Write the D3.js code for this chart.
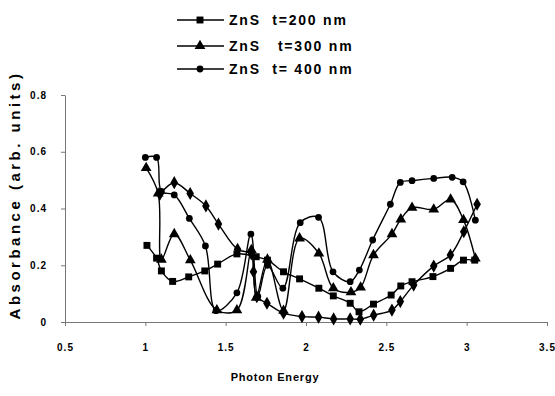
<!DOCTYPE html>
<html>
  <head>
    <meta charset="utf-8">
    <script src="https://d3js.org/d3.v7.min.js"></script>
    <style>
      body { margin: 0; background: #fff; }
      .tick text { font-family: Arial, "Liberation Sans", sans-serif; font-weight: bold; font-size: 10px; letter-spacing: 1px; fill: #000; }
      .domain, .tick line { stroke: #777; }
      .legend text { font-family: Arial, "Liberation Sans", sans-serif; font-weight: bold; font-size: 14px; letter-spacing: 1.8px; }
    </style>
  </head>
  <body>
    <svg width="555" height="396"></svg>
    <script>
      // data
      const xTicks = [0.5, 1, 1.5, 2, 2.5, 3, 3.5];
      const yTicks = [0, 0.2, 0.4, 0.6, 0.8];

      const sqX = [1.01, 1.07, 1.10, 1.17, 1.27, 1.37, 1.45, 1.57, 1.69, 1.76, 1.86, 1.96, 2.08, 2.17, 2.275, 2.33, 2.42, 2.53, 2.59, 2.66, 2.79, 2.90, 2.98, 3.05];
      const sqY = [0.27, 0.225, 0.18, 0.143, 0.159, 0.18, 0.204, 0.24, 0.23, 0.218, 0.177, 0.152, 0.119, 0.092, 0.066, 0.036, 0.063, 0.095, 0.127, 0.142, 0.16, 0.189, 0.218, 0.218];

      const triX = [1.005, 1.08, 1.10, 1.18, 1.28, 1.445, 1.57, 1.66, 1.69, 1.76, 1.86, 1.96, 2.08, 2.17, 2.28, 2.34, 2.42, 2.535, 2.59, 2.66, 2.795, 2.90, 2.98, 3.054];
      const triY = [0.543, 0.453, 0.22, 0.31, 0.218, 0.042, 0.042, 0.254, 0.086, 0.22, 0.04, 0.295, 0.242, 0.119, 0.105, 0.122, 0.236, 0.31, 0.362, 0.403, 0.397, 0.432, 0.36, 0.224];

      const cirX = [1.0, 1.07, 1.10, 1.18, 1.274, 1.374, 1.44, 1.57, 1.657, 1.70, 1.76, 1.856, 1.964, 2.078, 2.168, 2.275, 2.332, 2.415, 2.525, 2.587, 2.66, 2.795, 2.91, 2.978, 3.054];
      const cirY = [0.58, 0.58, 0.46, 0.448, 0.365, 0.268, 0.04, 0.103, 0.31, 0.09, 0.2, 0.119, 0.35, 0.369, 0.177, 0.142, 0.183, 0.289, 0.415, 0.492, 0.498, 0.506, 0.51, 0.494, 0.359];

      const diaX = [1.09, 1.18, 1.279, 1.377, 1.455, 1.574, 1.66, 1.673, 1.694, 1.757, 1.86, 1.975, 2.078, 2.172, 2.275, 2.338, 2.421, 2.535, 2.587, 2.67, 2.795, 2.899, 2.982, 3.065];
      const diaY = [0.45, 0.491, 0.453, 0.409, 0.345, 0.256, 0.24, 0.177, 0.089, 0.066, 0.031, 0.019, 0.017, 0.011, 0.011, 0.01, 0.024, 0.042, 0.072, 0.13, 0.197, 0.236, 0.318, 0.415];

      const legendLabels = ['ZnS  t=200 nm', 'ZnS   t=300 nm', 'ZnS  t= 400 nm'];

      const svg = d3.select('svg');
      const xScale = d3.scaleLinear().domain([0.5, 3.5]).range([65, 547]);
      const yScale = d3.scaleLinear().domain([0, 0.8]).range([322, 95]);

      const fmt = d => d3.format('~g')(d);

      svg.append('g')
        .attr('transform', 'translate(0,322)')
        .call(d3.axisBottom(xScale).tickValues(xTicks).tickFormat(fmt).tickSize(4).tickSizeOuter(0).tickPadding(18));

      svg.append('g')
        .attr('transform', 'translate(65,0)')
        .call(d3.axisLeft(yScale).tickValues(yTicks).tickFormat(fmt).tickSize(4).tickSizeOuter(0).tickPadding(14));

      // axis titles
      svg.append('text')
        .attr('x', 275).attr('y', 381)
        .attr('text-anchor', 'middle')
        .style('font-family', 'Arial, sans-serif').style('font-weight', 'bold').style('font-size', '11px')
        .style('letter-spacing', '0.8px')
        .text('Photon Energy');

      svg.append('text')
        .attr('transform', 'translate(20,195) rotate(-90)')
        .attr('text-anchor', 'middle')
        .style('font-family', 'Arial, sans-serif').style('font-weight', 'bold').style('font-size', '15px')
        .style('letter-spacing', '3.5px')
        .text('Absorbance (arb. units)');

      const series = [
        { xs: sqX, ys: sqY, shape: d3.symbolSquare, size: 48 },
        { xs: triX, ys: triY, shape: d3.symbolTriangle, size: 50 },
        { xs: cirX, ys: cirY, shape: d3.symbolCircle, size: 36 },
        { xs: diaX, ys: diaY, shape: d3.symbolDiamond, size: 50 }
      ];

      const line = d3.line()
        .x(d => xScale(d[0]))
        .y(d => yScale(d[1]))
        .curve(d3.curveCatmullRom.alpha(0.5));

      series.forEach(s => {
        const pts = s.xs.map((x, i) => [x, s.ys[i]]);
        svg.append('path')
          .attr('d', line(pts))
          .attr('fill', 'none')
          .attr('stroke', '#000')
          .attr('stroke-width', 1.4);
        svg.append('g').selectAll('path').data(pts)
          .enter().append('path')
            .attr('transform', d => `translate(${xScale(d[0])},${yScale(d[1])})`)
            .attr('d', d3.symbol().type(s.shape).size(s.size))
            .attr('fill', '#000');
      });

      // legend (only three entries in the original)
      const legY = [20, 46, 69];
      const leg = svg.append('g').attr('class', 'legend');
      legendLabels.forEach((lab, i) => {
        leg.append('line')
          .attr('x1', 177).attr('x2', 224)
          .attr('y1', legY[i]).attr('y2', legY[i])
          .attr('stroke', '#000').attr('stroke-width', 1.4);
        leg.append('path')
          .attr('transform', `translate(200,${legY[i]})`)
          .attr('d', d3.symbol().type(series[i].shape).size(series[i].size))
          .attr('fill', '#000');
        leg.append('text')
          .attr('x', 229).attr('y', legY[i] + 5)
          .style('white-space', 'pre')
          .attr('xml:space', 'preserve')
          .text(lab);
      });
    </script>
  </body>
</html>
